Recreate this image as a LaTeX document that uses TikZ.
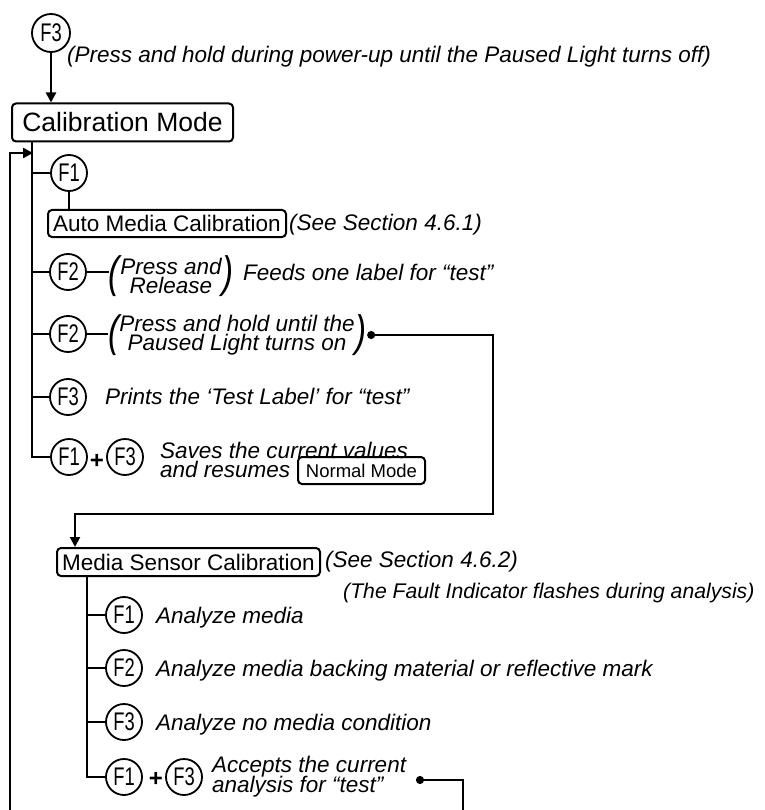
\documentclass[tikz,border=0pt]{standalone}
\usepackage{fontspec}
\usepackage{graphicx}
\setmainfont{Liberation Sans}
\newfontfamily\keyfont[FakeStretch=0.72]{Liberation Sans}
\usetikzlibrary{arrows.meta,positioning}
\newcommand\tallparen[1]{\scalebox{0.75}[1]{#1}}

\begin{document}
\begin{tikzpicture}[x=1pt,y=-1pt,
  key/.style={circle,draw,line width=1.8pt,minimum size=36pt,inner sep=0pt,
    font=\keyfont\fontsize{25.5}{25.5}\selectfont},
  mode/.style={draw,rounded corners=4pt,line width=2pt,inner sep=0pt,
    font=\fontsize{22.5}{22.5}\selectfont},
  note/.style={inner sep=0pt,font=\itshape\fontsize{22.5}{19}\selectfont},
  par/.style={inner sep=0pt,font=\itshape\fontsize{44}{44}\selectfont},
  plus/.style={inner sep=0pt,font=\bfseries\fontsize{24}{24}\selectfont},
  wire/.style={line width=2.4pt},
  a/.style={wire,-{Triangle[length=10pt,width=10pt]}},
  d/.style={line width=2pt,{Circle[length=8pt]}-{Triangle[length=10pt,width=10pt]}}]
  \useasboundingbox (0,0) rectangle (764,810);

  % power-up
  \node[key,minimum size=38pt] (f3) at (51,33) {F3};
  \node[note,anchor=base west] (hold) at (67,63) {(Press and hold during power-up until the Paused Light turns off)};
  \node[mode,minimum width=221pt,minimum height=38pt,font=\fontsize{26.5}{26.5}\selectfont] (cal) at (122.5,122.5) {Calibration Mode};
  \draw[a] (f3) -- (f3 |- cal.north);

  % auto media calibration
  \coordinate (spine) at ([xshift=21pt]cal.south west);
  \coordinate (loopin) at (33,153);
  \coordinate (loopbot) at (10,812);
  \node[key] (k1) at (69,173) {F1};
  \node[mode,minimum width=238pt,minimum height=27pt] (amc) at (167,223.5) {Auto Media Calibration};
  \node[note,anchor=base west] at (289,230) {(See Section 4.6.1)};
  \draw[wire] (k1) -- (k1 |- amc.north);

  \node[key] (k2) at (68,272) {F2};
  \node[note,align=center] (pt1) at (171,276) {Press and\\Release};
  \node[par,left=0pt of pt1] (pl1) {\tallparen{(}};
  \node[par,right=0pt of pt1] (pr1) {\tallparen{)}};
  \node[note,anchor=base west] (feed) at (243,280) {Feeds one label for “test”};
  \draw[wire] (k2.east) -- (k2.east -| pl1.west);

  \node[key] (k3) at (68,334) {F2};
  \node[note,align=center] (pt2) at (237,335) {Press and hold until the\\Paused Light turns on};
  \node[par,left=0pt of pt2] (pl2) {\tallparen{(}};
  \node[par,right=1pt of pt2] (pr2) {\tallparen{)}};
  \draw[wire] (k3.east) -- (k3.east -| pl2.west);

  \node[key] (k4) at (68,397) {F3};
  \node[note,anchor=base west] at (105,404) {Prints the ‘Test Label’ for “test”};

  \node[key] (k5) at (69,457) {F1};
  \node[plus] at (97,461) {+};
  \node[key] (k6) at (125,457) {F3};
  \node[note,anchor=base west] (sv1) at (160,458) {Saves the current values};
  \node[note,anchor=base west] (sv2) at (160,477) {and resumes};
  \node[mode,minimum width=127pt,minimum height=27pt,font=\fontsize{18.5}{18.5}\selectfont] (nm) at (361.5,470.5) {Normal Mode};

  \draw[wire] (spine) |- (k5);
  \foreach \k in {k1,k2,k3,k4} \draw[wire] (spine |- \k) -- (\k);
  \draw[a] (loopbot) |- (loopin);

  % media sensor calibration
  \coordinate (jog) at (493,514);
  \node[mode,minimum width=263pt,minimum height=28pt] (msc) at (188.5,562) {Media Sensor Calibration};
  \coordinate (drop) at ([xshift=19pt]msc.north west);
  \draw[d] (pr2.east) -| (jog) -| (drop);
  \node[note,anchor=base west] at (325,567) {(See Section 4.6.2)};
  \node[note,anchor=base west,font=\itshape\fontsize{21.2}{19}\selectfont] at (343,598) {(The Fault Indicator flashes during analysis)};

  \coordinate (spine2) at ([xshift=31pt]msc.south west);
  \node[key] (m1) at (124,615) {F1};
  \node[note,anchor=base west] at (156,623) {Analyze media};
  \node[key] (m2) at (124,668) {F2};
  \node[note,anchor=base west] at (156,676) {Analyze media backing material or reflective mark};
  \node[key] (m3) at (124,722) {F3};
  \node[note,anchor=base west] at (156,730) {Analyze no media condition};
  \node[key] (m4) at (124,777) {F1};
  \node[plus] at (156,779) {+};
  \node[key] (m5) at (184,777) {F3};
  \node[note,anchor=base west] (ac1) at (212,772) {Accepts the current};
  \node[note,anchor=base west] (ac2) at (212,792) {analysis for “test”};

  \draw[wire] (spine2) |- (m4);
  \foreach \k in {m1,m2,m3} \draw[wire] (spine2 |- \k) -- (\k);
  \coordinate (accdot) at (416,780);
  \coordinate (exit) at (463,812);
  \draw[line width=2pt,{Circle[length=8pt]}-] (accdot) -| (exit);
\end{tikzpicture}
\end{document}
